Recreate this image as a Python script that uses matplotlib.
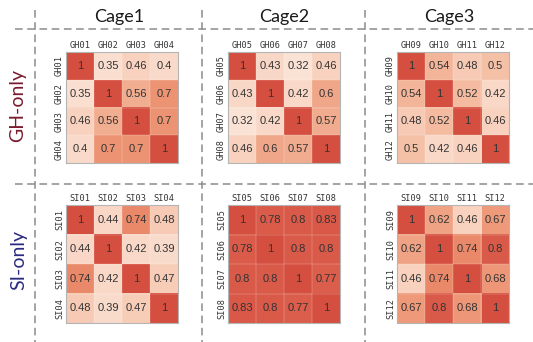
import numpy as np
import matplotlib
matplotlib.use('Agg')
import matplotlib.pyplot as plt
from matplotlib.colors import LinearSegmentedColormap

# correlation values per cage / condition
gh_cage1 = [[1, 0.35, 0.46, 0.4], [0.35, 1, 0.56, 0.7], [0.46, 0.56, 1, 0.7], [0.4, 0.7, 0.7, 1]]
gh_cage2 = [[1, 0.43, 0.32, 0.46], [0.43, 1, 0.42, 0.6], [0.32, 0.42, 1, 0.57], [0.46, 0.6, 0.57, 1]]
gh_cage3 = [[1, 0.54, 0.48, 0.5], [0.54, 1, 0.52, 0.42], [0.48, 0.52, 1, 0.46], [0.5, 0.42, 0.46, 1]]
si_cage1 = [[1, 0.44, 0.74, 0.48], [0.44, 1, 0.42, 0.39], [0.74, 0.42, 1, 0.47], [0.48, 0.39, 0.47, 1]]
si_cage2 = [[1, 0.78, 0.8, 0.83], [0.78, 1, 0.8, 0.8], [0.8, 0.8, 1, 0.77], [0.83, 0.8, 0.77, 1]]
si_cage3 = [[1, 0.62, 0.46, 0.67], [0.62, 1, 0.74, 0.8], [0.46, 0.74, 1, 0.68], [0.67, 0.8, 0.68, 1]]

gh_labels = [['GH01', 'GH02', 'GH03', 'GH04'], ['GH05', 'GH06', 'GH07', 'GH08'], ['GH09', 'GH10', 'GH11', 'GH12']]
si_labels = [['SI01', 'SI02', 'SI03', 'SI04'], ['SI05', 'SI06', 'SI07', 'SI08'], ['SI09', 'SI10', 'SI11', 'SI12']]
cages = ['Cage1', 'Cage2', 'Cage3']
rows = ['GH-only', 'SI-only']

W, H = 533, 342
vmin, vmax = 0.3, 1.0
nodes = [(0.30, '#fbe4d8'), (0.45, '#f9d6c4'), (0.50, '#f5c2a8'), (0.56, '#f2ae91'),
         (0.70, '#ed9474'), (0.75, '#e88668'), (0.77, '#db5c4b'), (1.00, '#d44f3f')]
cmap = LinearSegmentedColormap.from_list('cage', [((v - vmin) / (vmax - vmin), c) for v, c in nodes])

fig = plt.figure(figsize=(W / 100, H / 100), dpi=100)

# overlay for dashed grid and row/column titles
bg = fig.add_axes([0, 0, 1, 1], zorder=0)
bg.set_xlim(0, W)
bg.set_ylim(H, 0)
bg.axis('off')
dash = dict(color='#8c8c8c', lw=1.1, ls=(0, (5, 3)))
bg.plot([15, W], [29, 29], **dash)
bg.plot([15, W], [184, 184], **dash)
for x in [35, 202, 365]:
    bg.plot([x, x], [10, H], **dash)
for x, name in zip([119, 284, 449], cages):
    bg.text(x, 17, name, ha='center', va='center', fontsize=13, color='#1a1a1a', family='Lato')
bg.text(18, 106, rows[0], rotation=90, ha='center', va='center', fontsize=14, color='#7b1a2e', family='Lato')
bg.text(19, 260, rows[1], rotation=90, ha='center', va='center', fontsize=14, color='#2a2a80', family='Lato')

lefts = [66, 228, 397]
boxes = [(52, 111), (205, 118)]
mats = [[gh_cage1, gh_cage2, gh_cage3], [si_cage1, si_cage2, si_cage3]]
labels = [gh_labels, si_labels]

for r in range(2):
    top, hgt = boxes[r]
    for c in range(3):
        ax = fig.add_axes([lefts[c] / W, 1 - (top + hgt) / H, 112 / W, hgt / H], zorder=2)
        m = np.array(mats[r][c])
        ax.imshow(m, cmap=cmap, vmin=vmin, vmax=vmax, aspect='auto')
        for i in range(4):
            for j in range(4):
                ax.text(j, i, f'{m[i, j]:g}', ha='center', va='center', fontsize=8,
                        color='#333333', family='Liberation Sans')
        for k in range(1, 4):
            ax.axhline(k - 0.5, color='white', lw=0.3, alpha=0.5)
            ax.axvline(k - 0.5, color='white', lw=0.3, alpha=0.5)
        ax.xaxis.tick_top()
        ax.set_xticks(range(4))
        ax.set_yticks(range(4))
        ax.set_xticklabels(labels[r][c], family='DejaVu Sans Mono', fontsize=6.2, color='#333333')
        ax.set_yticklabels(labels[r][c], family='DejaVu Sans Mono', fontsize=6.2, color='#333333',
                           rotation=90, va='center')
        ax.tick_params(length=0, pad=1.5)
        for s in ax.spines.values():
            s.set_color('#b5b5b5')
            s.set_linewidth(0.8)

fig.savefig('out.png', dpi=100)
